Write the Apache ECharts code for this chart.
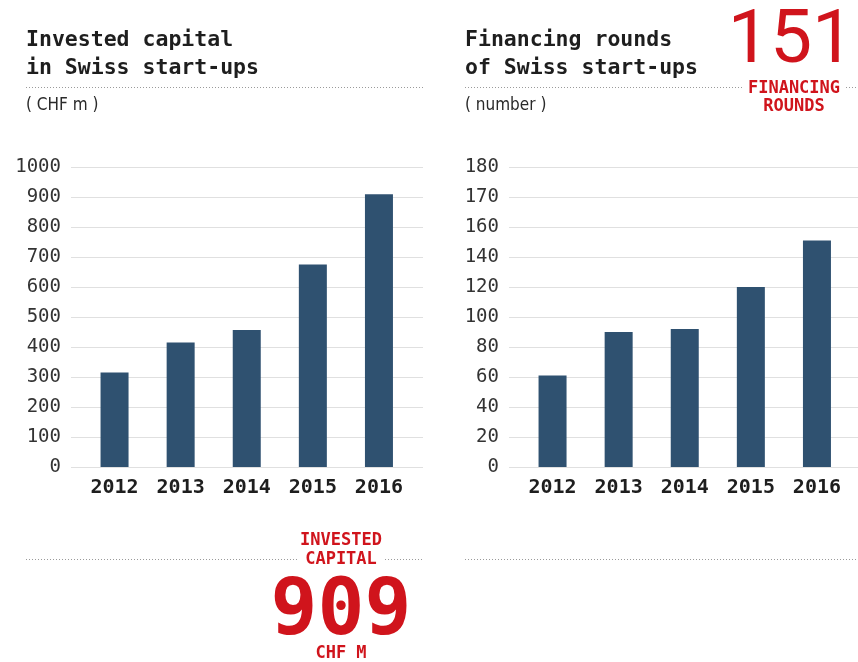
<!DOCTYPE html>
<html><head><meta charset="utf-8">
<script src="https://cdn.jsdelivr.net/npm/echarts@6/dist/echarts.min.js"></script>
<style>html,body{margin:0;padding:0;background:#fff}#c{width:858px;height:662px}</style>
</head><body><div id="c"></div>
<script>
const years = ['2012','2013','2014','2015','2016'];
const investedCapital = [315, 415, 457, 675, 909];
const financingRounds = [61, 90, 92, 120, 151];
const leftTickLabels = ['0','100','200','300','400','500','600','700','800','900','1000'];
const rightTickLabels = ['0','20','40','60','80','100','120','140','160','170','180'];

const RED = '#d0141c', BAR = '#2f5170', TXT = '#1e1e1e', MONO = '"DejaVu Sans Mono", "Liberation Mono", monospace';
const COND = '"DejaVu Sans Condensed", "DejaVu Sans", sans-serif';
const chart = echarts.init(document.getElementById('c'), null, {renderer:'canvas'});

const gTop = 167, gH = 300;
function bgY(gi, max, interval, labels){
  return {type:'value', gridIndex:gi, min:0, max:max, interval:interval,
    axisLine:{show:false}, axisTick:{show:false},
    splitLine:{lineStyle:{color:'#e0e0e0', width:1}},
    axisLabel:{fontFamily:MONO, fontSize:19, color:'#333', margin:10,
      formatter:(v)=>labels[Math.round(v/interval)]}};
}
function barY(gi, max, interval){
  return {type:'value', gridIndex:gi, min:0, max:max, interval:interval, show:false, splitLine:{show:false}};
}
function bgX(gi){ return {type:'category', gridIndex:gi, data:years, show:false}; }
function barX(gi){
  return {type:'category', gridIndex:gi, data:years,
    axisLine:{show:false}, axisTick:{show:false},
    axisLabel:{fontFamily:MONO, fontSize:20, fontWeight:'bold', color:TXT, margin:11}};
}
function dotted(x1,x2,y){
  return {type:'line', shape:{x1:x1,y1:y,x2:x2,y2:y}, style:{stroke:'#9a9a9a', lineWidth:1, lineDash:[1,2]}, silent:true};
}
function txt(x,y,t,o){
  return {type:'text', x:x, y:y, style:Object.assign({text:t, fill:TXT, font:'bold 21.5px '+MONO, textVerticalAlign:'middle'}, o||{})};
}
const SMALLRED = {font:'bold 17px '+MONO, fill:RED, textAlign:'center'};
const SUB = {font:'17px '+COND, fill:'#2a2a2a'};

chart.setOption({
  animation:false,
  grid:[
    {left:71, width:352, top:gTop, height:gH},
    {left:81.5, width:330.5, top:gTop, height:gH},
    {left:509, width:349, top:gTop, height:gH},
    {left:519.5, width:330.5, top:gTop, height:gH}
  ],
  xAxis:[bgX(0), barX(1), bgX(2), barX(3)],
  yAxis:[bgY(0,1000,100,leftTickLabels), barY(1,1000,100), bgY(2,200,20,rightTickLabels), barY(3,200,20)],
  series:[
    {type:'bar', xAxisIndex:1, yAxisIndex:1, data:investedCapital, barWidth:28, itemStyle:{color:BAR}},
    {type:'bar', xAxisIndex:3, yAxisIndex:3, data:financingRounds, barWidth:28, itemStyle:{color:BAR}}
  ],
  graphic:[
    txt(26,40,'Invested capital'),
    txt(26,68,'in Swiss start-ups'),
    dotted(26,423,87.5),
    txt(26,106,'( CHF m )',SUB),
    txt(465,40,'Financing rounds'),
    txt(465,68,'of Swiss start-ups'),
    dotted(465,742,87.5),
    dotted(846,858,87.5),
    txt(465,106,'( number )',SUB),
    txt(791,43,'151',{font:'75px Roboto', fill:RED, textAlign:'center'}),
    txt(794,89,'FINANCING',SMALLRED),
    txt(794,107,'ROUNDS',SMALLRED),
    txt(341,541,'INVESTED',SMALLRED),
    txt(341,560,'CAPITAL',SMALLRED),
    dotted(26,297,559.5),
    dotted(385,423,559.5),
    dotted(465,858,559.5),
    txt(341,614,'909',{font:'bold 78px '+MONO, fill:RED, textAlign:'center'}),
    txt(341,654,'CHF M',SMALLRED)
  ]
});
</script></body></html>
